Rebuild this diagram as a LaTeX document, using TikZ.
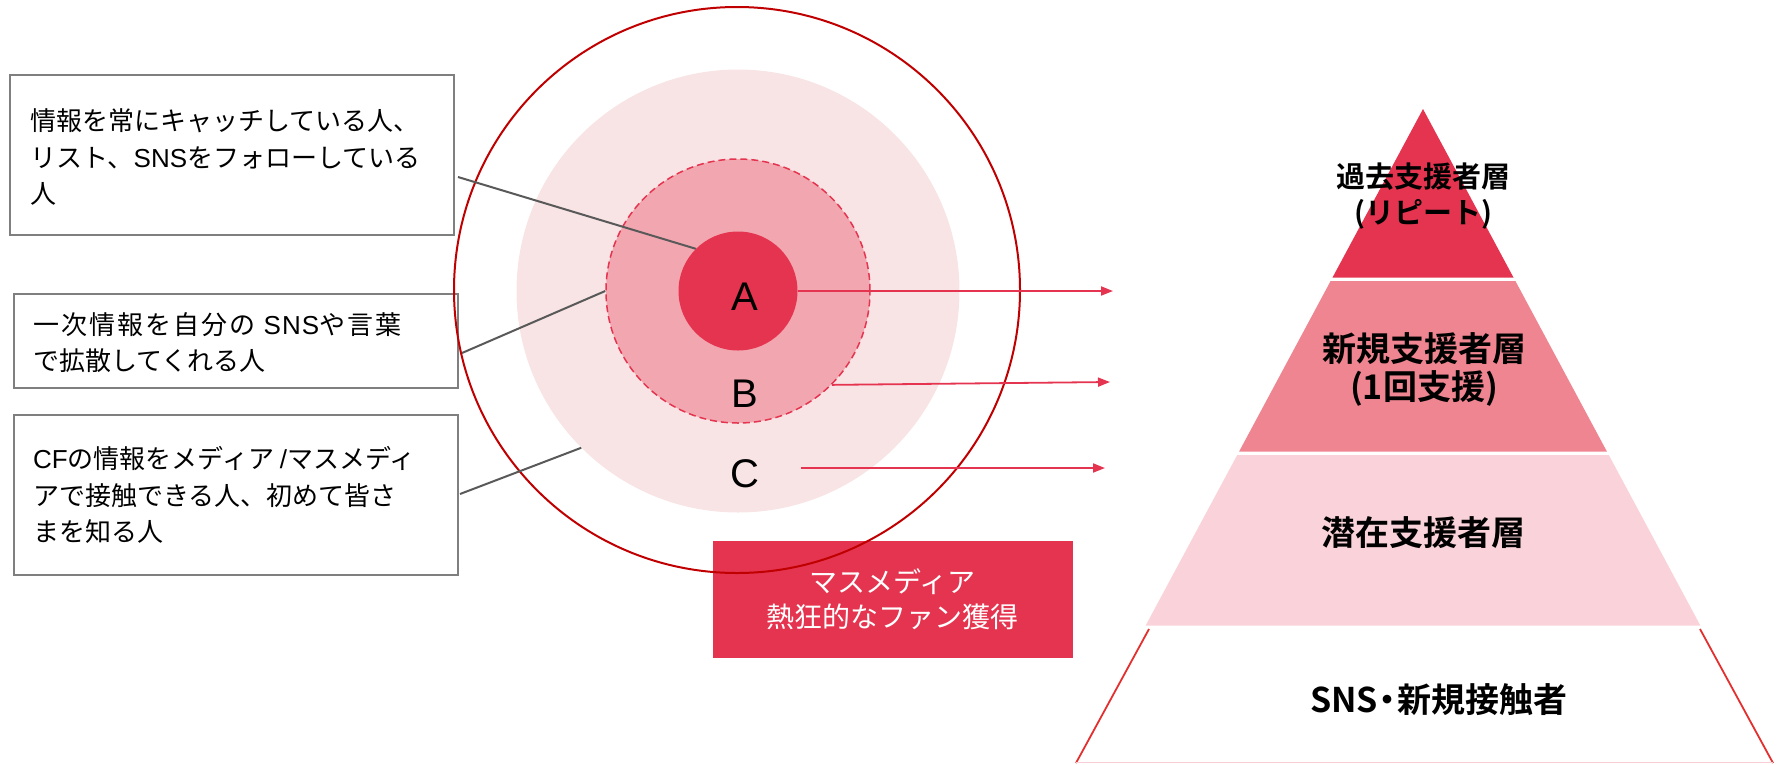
\documentclass[tikz,border=0pt]{standalone}
\usepackage{fontspec}
\setmainfont{Noto Sans CJK JP}[BoldFont={Noto Sans CJK JP Bold}]
\newfontfamily\abcfont{Liberation Sans}
\newfontfamily\spacedjp{Noto Sans CJK JP}[LetterSpace=8.0]
\newfontfamily\spacedlat{Liberation Sans}[LetterSpace=4.0]
\usetikzlibrary{arrows.meta,calc}
\definecolor{crim}{HTML}{E5344F}
\definecolor{tiertwo}{HTML}{EF8591}
\definecolor{tierthree}{HTML}{F9D3D9}
\definecolor{ringb}{HTML}{F2A7B0}
\definecolor{ringc}{HTML}{F8E4E5}
\definecolor{outerred}{HTML}{C00000}
\definecolor{boxgray}{HTML}{7F7F7F}
\definecolor{linegray}{HTML}{595959}
\definecolor{edgered}{HTML}{E3302F}
\definecolor{basepink}{HTML}{F8CDD3}
\newcommand{\lat}[1]{{\abcfont #1}}
\tikzset{
  infobox/.style={draw=boxgray, line width=2pt, minimum width=444pt, inner sep=0pt},
  infotext/.style={anchor=west, align=left, inner sep=0pt, font=\fontsize{26}{36.5}\selectfont},
  conn/.style={draw=linegray, line width=2pt},
  arr/.style={draw=crim, line width=1.8pt, -{Triangle[length=12pt,width=9pt]}},
  ring/.style={circle, inner sep=0pt},
  abc/.style={font=\abcfont\fontsize{40}{40}\selectfont, inner sep=0pt},
  tiertext/.style={font=\bfseries\fontsize{34}{38}\selectfont, align=center, inner sep=0pt}
}
\begin{document}
\begin{tikzpicture}[x=1pt,y=-1pt]
\useasboundingbox (0,0) rectangle (1781,764);

% left boxes
\node[infobox, minimum height=160pt] (box1) at (232,155) {};
\node[infotext] (t1) at (30,157) {情報を常にキャッチしている人、\\リスト、\lat{SNS}をフォローしている\\人};
\node[infobox, minimum height=94pt] (box2) at (236,341) {};
\node[infotext] (t2) at (33,342.5) {{\spacedjp 一次情報を自分の }{\spacedlat SNS}{\spacedjp や言葉}\\で拡散してくれる人};
\node[infobox, minimum height=160pt] (box3) at (236,495) {};
\node[infotext] (t3) at (33,495) {\lat{CF}の情報をメディア \lat{/}マスメディ\\アで接触できる人、初めて皆さ\\まを知る人};

% rings
\node[ring, fill=ringc, minimum size=443pt] (C) at (738,291) {};
\node[ring, fill=ringb, draw=crim, line width=1.5pt, dash pattern=on 7pt off 4pt, minimum size=264pt] (B) at (738,291) {};
\node[ring, fill=crim, minimum size=119pt] (A) at (738,291) {};

% media box
\node[fill=crim, draw=crim, minimum width=359pt, minimum height=116pt, inner sep=0pt, text=white, align=center, font=\fontsize{28}{35}\selectfont] (media) at (892.5,599) {マスメディア\\熱狂的なファン獲得};

% outer circle
\node[ring, draw=outerred, line width=2pt, minimum size=566pt] (outer) at (737,290) {};

% labels
\node[abc] (la) at (745,297) {A};
\node[abc] (lb) at (745,394) {B};
\node[abc] (lc) at (745,474) {C};

% connectors
\draw[conn] ($(box1.east)+(3,22)$) -- (A.135);
\draw[conn] ($(box2.east)+(3,12)$) -- (B.west);
\draw[conn] ($(box3.east)+(1,-1)$) -- (C.225);

% arrows
\coordinate (ta) at (1113,291);
\coordinate (tb) at (1110,382);
\coordinate (cs) at (801,468);
\coordinate (tc) at (1105,468);
\draw[arr] (A.east) -- (ta);
\draw[arr] (B.-45) -- (tb);
\draw[arr] (cs) -- (tc);

% pyramid
\fill[crim] (1423,109) -- (1513.6,277.7) -- (1332.4,277.7) -- cycle;
\fill[tiertwo] (1330.6,281) -- (1515.4,281) -- (1607,451.7) -- (1239,451.7) -- cycle;
\fill[tierthree] (1237.2,455) -- (1608.8,455) -- (1700.4,625.6) -- (1145.6,625.6) -- cycle;
\draw[edgered, line width=1.8pt] (1149,629) -- (1076,763);
\draw[edgered, line width=1.8pt] (1700,629) -- (1773,763);
\draw[basepink, line width=1.5pt] (1076,762.5) -- (1773,762.5);

\node[tiertext, font=\bfseries\fontsize{29}{36}\selectfont] (p1) at (1423,196) {過去支援者層\\(リピート)};
\node[tiertext] (p2) at (1424,369) {新規支援者層\\(1回支援)};
\node[tiertext] (p3) at (1423,533) {潜在支援者層};
\node[tiertext] (p4) at (1439,700) {SNS\kern-7pt・\kern-7pt新規接触者};
\end{tikzpicture}
\end{document}
